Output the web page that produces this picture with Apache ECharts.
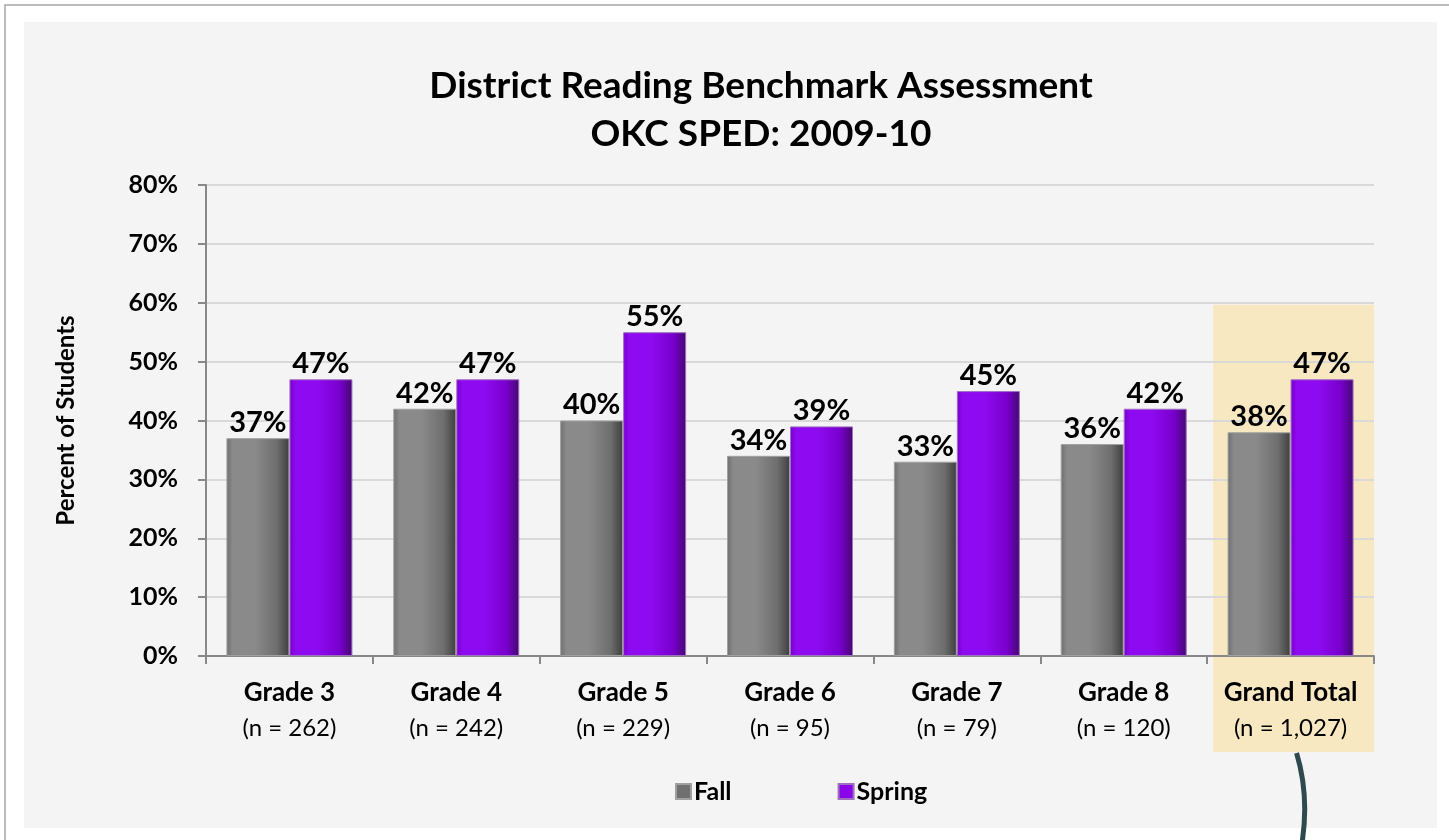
<!DOCTYPE html>
<html>
<head>
<meta charset="utf-8">
<title>District Reading Benchmark Assessment</title>
<script src="https://cdn.jsdelivr.net/npm/echarts@6/dist/echarts.min.js"></script>
<style>
  html, body { margin: 0; padding: 0; background: #ffffff; }
  #chart { width: 1449px; height: 840px; }
</style>
</head>
<body>
<div id="chart"></div>
<script>
// chart data
var grades = ['Grade 3', 'Grade 4', 'Grade 5', 'Grade 6', 'Grade 7', 'Grade 8', 'Grand Total']
var sampleSizes = ['262', '242', '229', '95', '79', '120', '1,027']
var fall = [37, 42, 40, 34, 33, 36, 38]
var spring = [47, 47, 55, 39, 45, 42, 47]
var yTicks = [0, 10, 20, 30, 40, 50, 60, 70, 80]

var FONT = 'Lato'

var chart = echarts.init(document.getElementById('chart'))

function barColor(c0, c1, c2) {
  return new echarts.graphic.LinearGradient(0, 0, 1, 0, [
    { offset: 0, color: c1 },
    { offset: 0.1, color: c0 },
    { offset: 0.45, color: c0 },
    { offset: 0.8, color: c1 },
    { offset: 1, color: c2 }
  ])
}

var valueLabel = {
  show: true,
  position: 'top',
  distance: 1,
  formatter: '{c}%',
  color: '#000',
  fontFamily: FONT,
  fontWeight: 'bold',
  fontSize: 29
}

chart.setOption({
  backgroundColor: '#ffffff',
  animation: false,
  title: {
    text: 'District Reading Benchmark Assessment\nOKC SPED: 2009-10',
    left: 756,
    top: 57,
    textAlign: 'center',
    textStyle: {
      fontFamily: FONT,
      fontWeight: 'bold',
      fontSize: 37,
      lineHeight: 48,
      color: '#000'
    }
  },
  legend: {
    left: 670,
    top: 774,
    itemGap: 106,
    itemWidth: 15,
    itemHeight: 15,
    icon: 'rect',
    data: [
      { name: 'Fall', itemStyle: { color: '#707070' } },
      { name: 'Spring', itemStyle: { color: '#8a06e8' } }
    ],
    textStyle: {
      fontFamily: FONT,
      fontWeight: 'bold',
      fontSize: 25,
      color: '#000',
      padding: [0, 0, 0, -2]
    }
  },
  grid: {
    left: 206,
    right: 75,
    top: 185,
    bottom: 184,
    containLabel: false
  },
  xAxis: {
    type: 'category',
    data: grades,
    axisLine: { lineStyle: { color: '#888', width: 2 } },
    axisTick: { show: true, length: 8, lineStyle: { color: '#888', width: 2 } },
    axisLabel: {
      margin: 19,
      formatter: function (v, i) {
        return '{a|' + v + '}\n{b|(n = ' + sampleSizes[i] + ')}'
      },
      rich: {
        a: { fontFamily: FONT, fontWeight: 'bold', fontSize: 26, color: '#000', lineHeight: 36 },
        b: { fontFamily: FONT, fontSize: 24, color: '#000', lineHeight: 34 }
      }
    }
  },
  yAxis: {
    type: 'value',
    min: 0,
    max: 80,
    interval: 10,
    name: 'Percent of Students',
    nameLocation: 'middle',
    nameGap: 128,
    nameRotate: 90,
    nameTextStyle: {
      fontFamily: FONT,
      fontWeight: 'bold',
      fontSize: 24,
      color: '#000'
    },
    axisLine: { show: true, lineStyle: { color: '#888', width: 2 } },
    axisTick: { show: true, length: 8, lineStyle: { color: '#888', width: 2 } },
    splitLine: { lineStyle: { color: '#d9d9d9', width: 2 } },
    axisLabel: {
      margin: 28,
      formatter: function (v) { return yTicks.indexOf(v) >= 0 ? v + '%' : '' },
      fontFamily: FONT,
      fontWeight: 'bold',
      fontSize: 25,
      color: '#000'
    }
  },
  series: [
    {
      name: 'Fall',
      type: 'bar',
      data: fall,
      barWidth: 63,
      barGap: '0%',
      itemStyle: {
        color: barColor('#8a8a8a', '#6e6e6e', '#3e3e3e'),
        borderColor: '#a0a0a0',
        borderWidth: 1
      },
      label: valueLabel
    },
    {
      name: 'Spring',
      type: 'bar',
      data: spring,
      barWidth: 63,
      barGap: '0%',
      itemStyle: {
        color: barColor('#8e0af0', '#7800cc', '#440870'),
        borderColor: '#a070c0',
        borderWidth: 1
      },
      label: valueLabel
    }
  ]
})

function drawExtras() {
  var lastCat = grades[grades.length - 1]
  var cx = chart.convertToPixel({ xAxisIndex: 0 }, lastCat)
  var band = chart.convertToPixel({ xAxisIndex: 0 }, grades[1]) - chart.convertToPixel({ xAxisIndex: 0 }, grades[0])
  var yTop = chart.convertToPixel({ yAxisIndex: 0 }, 60)
  var yBase = chart.convertToPixel({ yAxisIndex: 0 }, 0)
  var x0 = cx - band / 2 + 6
  var x1 = cx + band / 2

  chart.setOption({
    graphic: [
      {
        type: 'rect',
        z: -20,
        silent: true,
        shape: { x: 5, y: 5, width: 1460, height: 850 },
        style: { fill: '#ffffff', stroke: '#a6a6a6', lineWidth: 1.5 }
      },
      {
        type: 'rect',
        z: -19,
        silent: true,
        shape: { x: 24, y: 22, width: 1413, height: 806 },
        style: { fill: '#f4f4f4' }
      },
      {
        type: 'rect',
        z: -10,
        silent: true,
        shape: { x: x0, y: yTop + 2, width: x1 - x0, height: yBase - yTop + 94 },
        style: { fill: '#f8e8c2' }
      },
      {
        type: 'bezierCurve',
        z: 10,
        silent: true,
        shape: {
          x1: cx + 6, y1: yBase + 97,
          cpx1: cx + 16, cpy1: yBase + 130,
          cpx2: cx + 16, cpy2: yBase + 160,
          x2: cx + 11, y2: yBase + 190
        },
        style: { stroke: '#2f4a4f', lineWidth: 5, fill: 'none' }
      }
    ]
  })
}
drawExtras()
</script>
</body>
</html>
